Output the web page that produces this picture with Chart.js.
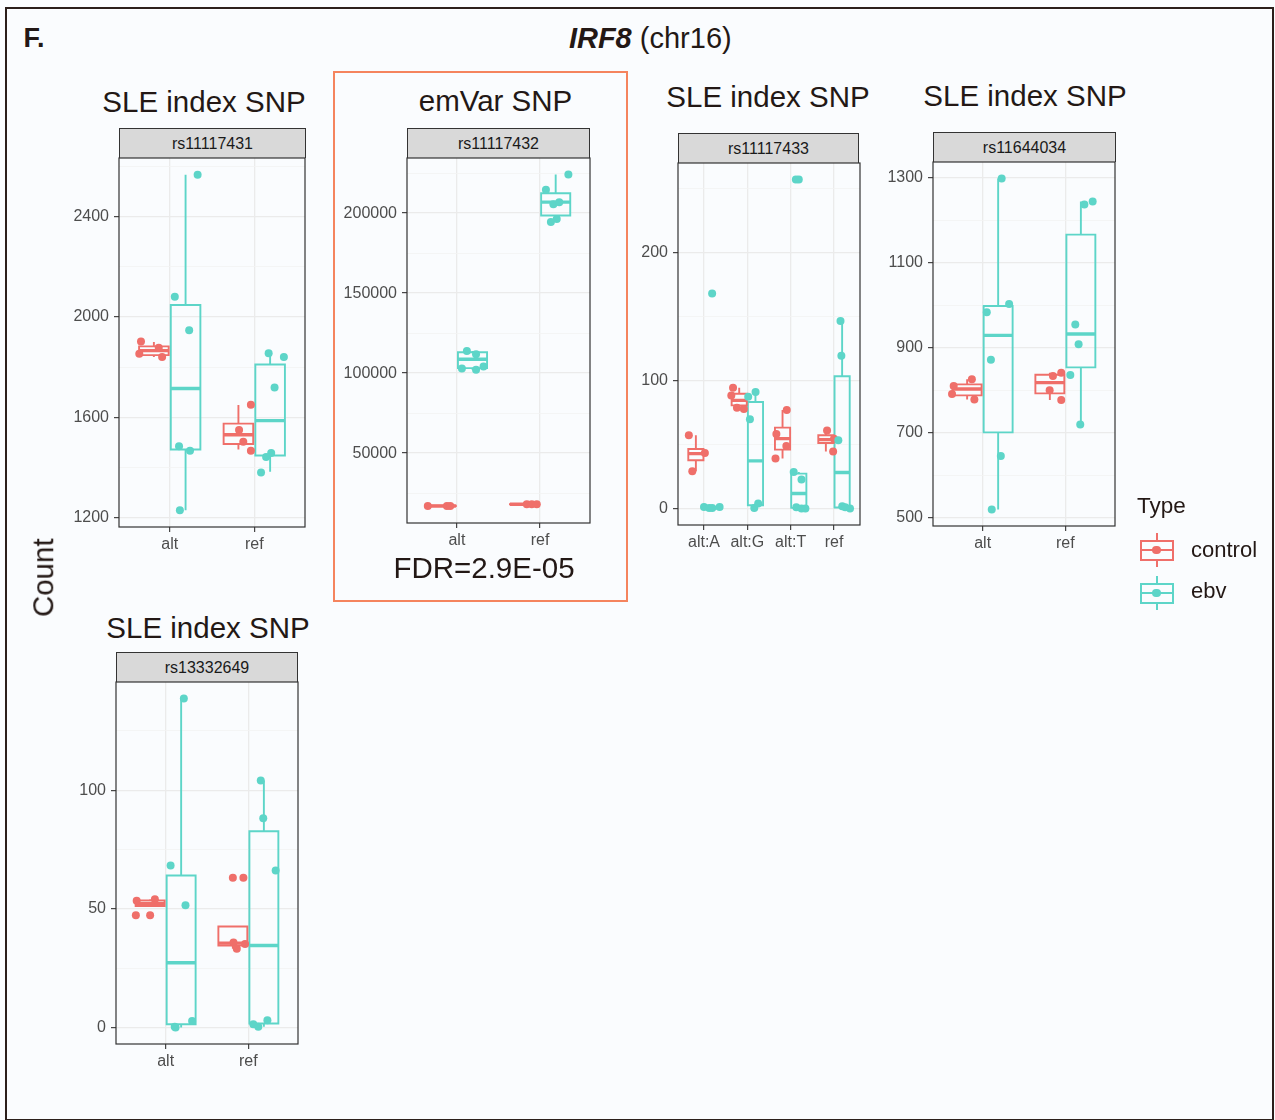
<!DOCTYPE html>
<html>
<head>
<meta charset="utf-8">
<title>IRF8 (chr16)</title>
<script src="https://cdn.jsdelivr.net/npm/chart.js@4.4.1/dist/chart.umd.min.js"></script>
<style>
  html, body { margin: 0; padding: 0; background: #FAFCFE; }
  #page { position: relative; width: 1275px; height: 1120px; overflow: hidden;
          font-family: "Liberation Sans", Arial, Helvetica, sans-serif; color: #231815; }
  .t { position: absolute; white-space: nowrap; }
  .strip { position: absolute; box-sizing: border-box; background: #D9D9D9;
           border: 1.2px solid #333; border-bottom: none; text-align: center;
           font-size: 16px; color: #1A1A1A; }
  canvas { position: absolute; }
  .k { position: absolute; box-sizing: border-box; }
</style>
</head>
<body>
<div id="page"></div>
<script>
// ---------------- data ----------------
const TYPES = ['control', 'ebv'];

// rs11117431 — box stats per allele are [lower whisker, Q1, median, Q3, upper whisker]
const rs11117431Alleles = ['alt', 'ref'];
const rs11117431Breaks = [1200, 1600, 2000, 2400];
const rs11117431Minor = [1400, 1800, 2200, 2600];
const rs11117431ControlBox = [[1841, 1848, 1866, 1883, 1900], [1472, 1494, 1531, 1575, 1649]];
const rs11117431EbvBox = [[1230, 1472, 1715, 2048, 2567], [1383, 1448, 1587, 1811, 1856]];
const rs11117431ControlPts = [[0.66, 1902], [0.64, 1854], [0.87, 1878], [0.91, 1841],
                              [1.96, 1650], [1.82, 1550], [1.87, 1503], [1.96, 1467]];
const rs11117431EbvPts = [[1.33, 2567], [1.06, 2081], [1.23, 1947], [1.11, 1485], [1.24, 1467], [1.12, 1230],
                          [2.17, 1856], [2.35, 1841], [2.24, 1719], [2.20, 1458], [2.14, 1442], [2.08, 1380]];

// rs11117432 (emVar)
const rs11117432Alleles = ['alt', 'ref'];
const rs11117432Breaks = [50000, 100000, 150000, 200000];
const rs11117432Minor = [25000, 75000, 125000, 175000, 225000];
const rs11117432ControlBox = [[16700, 16900, 17000, 17100, 17300], [17800, 17950, 18050, 18150, 18300]];
const rs11117432EbvBox = [[102075, 103110, 108714, 113070, 113900], [194400, 198550, 206850, 212450, 224070]];
const rs11117432ControlPts = [[0.65, 17010], [0.88, 17010], [0.92, 17010],
                              [1.84, 18050], [1.90, 18050], [1.96, 18050]];
const rs11117432EbvPts = [[1.12, 113900], [1.23, 111826], [1.06, 102905], [1.23, 102075], [1.32, 104150],
                          [2.34, 224070], [2.07, 214530], [2.16, 205600], [2.23, 206850], [2.20, 196270], [2.13, 194400]];
const rs11117432Fdr = 'FDR=2.9E-05';

// rs11117433
const rs11117433Alleles = ['alt:A', 'alt:G', 'alt:T', 'ref'];
const rs11117433Breaks = [0, 100, 200];
const rs11117433Minor = [50, 150, 250];
const rs11117433ControlBox = [[29.1, 37.7, 42.9, 46.5, 57.2], [77.8, 80.6, 84.5, 89.7, 94.4],
                              [39.0, 46.0, 54.6, 63.2, 77.0], [44.5, 51.2, 53.8, 57.2, 60.9]];
const rs11117433EbvBox = [[0, 0.2, 0.5, 0.8, 1.3], [0.5, 2.6, 37.2, 83.2, 91.0],
                          [0, 0.5, 11.7, 27.3, 28.6], [0, 0.8, 28.1, 103.3, 146.4]];
const rs11117433ControlPts = [[0.65, 57.2], [0.73, 29.1], [1.02, 43.4],
                              [1.67, 94.4], [1.63, 88.2], [1.76, 78.8], [1.92, 77.8],
                              [2.65, 39.0], [2.67, 58.3], [2.90, 48.9], [2.91, 77.0],
                              [3.84, 60.9], [4.00, 54.6], [3.98, 44.5]];
const rs11117433EbvPts = [[1.00, 1.3], [1.12, 0.5], [1.19, 0.5], [1.36, 1.3], [1.1875, 168],
                          [2.02, 87.4], [2.19, 91.0], [2.06, 69.7], [2.16, 0.5], [2.25, 3.9],
                          [3.07, 28.6], [3.25, 22.6], [3.13, 1.0], [3.25, 0], [3.34, 0], [3.12, 257], [3.1875, 257],
                          [4.15, 146.4], [4.17, 119.4], [4.10, 53.3], [4.19, 1.8], [4.26, 1.0], [4.37, 0]];

// rs11644034
const rs11644034Alleles = ['alt', 'ref'];
const rs11644034Breaks = [500, 700, 900, 1100, 1300];
const rs11644034Minor = [600, 800, 1000, 1200];
const rs11644034ControlBox = [[779, 788.5, 803.4, 814.4, 826.2], [777.5, 793.2, 818.4, 837.2, 841.9]];
const rs11644034EbvBox = [[520, 701.4, 929.8, 998.9, 1298.8], [720.2, 854.5, 933, 1166.9, 1244.6]];
const rs11644034ControlPts = [[0.65, 810.5], [0.63, 791.7], [0.87, 826.2], [0.90, 779],
                              [1.85, 834], [1.95, 841.9], [1.81, 800.3], [1.95, 777.5]];
const rs11644034EbvPts = [[1.23, 1298.8], [1.32, 1003.6], [1.05, 984], [1.10, 872.5], [1.22, 645.6], [1.11, 520],
                          [2.23, 1237.6], [2.33, 1244.6], [2.12, 955], [2.16, 908.6], [2.06, 836.4], [2.18, 720.2]];

// rs13332649
const rs13332649Alleles = ['alt', 'ref'];
const rs13332649Breaks = [0, 50, 100];
const rs13332649Minor = [25, 75, 125];
const rs13332649ControlBox = [[51.2, 51.2, 52.3, 53.6, 54.1], [33.2, 34.6, 35.6, 42.6, 43.0]];
const rs13332649EbvBox = [[0, 1.4, 27.3, 64.1, 138.7], [0.3, 1.7, 34.6, 82.7, 104.1]];
const rs13332649ControlPts = [[0.65, 53.4], [0.87, 54.1], [0.64, 47.3], [0.8125, 47.3],
                              [1.8125, 63.1], [1.94, 63.1], [1.82, 35.8], [1.86, 33.2], [1.96, 35.2]];
const rs13332649EbvPts = [[1.22, 138.7], [1.06, 68.3], [1.24, 51.5], [1.11, 0.3], [1.12, 0], [1.32, 2.8],
                          [2.15, 104.1], [2.18, 88.2], [2.33, 66.2], [2.06, 1.4], [2.12, 0.3], [2.23, 3.1]];

// ---------------- styling ----------------
const FONT = '"Liberation Sans", Arial, Helvetica, sans-serif';
const COLOR = { control: '#EF6F6A', ebv: '#5DD5C8' };
const AXIS = '#333333';
const TICK_TEXT = '#4D4D4D';
const GRID = '#EBEBEB';
const GRID_MINOR = '#F2F2F2';
const DODGE = 0.1875;   // half of the dodge width
const HALF = 0.175;     // half box width
const Y_AXIS_W = 80, X_AXIS_H = 34, PAD_T = 2, PAD_R = 3;

const panels = [
  { snp: 'rs11117431', heading: 'SLE index SNP', alleles: rs11117431Alleles, breaks: rs11117431Breaks, minor: rs11117431Minor,
    box: { control: rs11117431ControlBox, ebv: rs11117431EbvBox }, pts: { control: rs11117431ControlPts, ebv: rs11117431EbvPts },
    geo: { left: 119.3, top: 157.7, right: 305.7, bottom: 526.7, hx: 204, hy: 101 } },
  { snp: 'rs11117432', heading: 'emVar SNP', alleles: rs11117432Alleles, breaks: rs11117432Breaks, minor: rs11117432Minor,
    box: { control: rs11117432ControlBox, ebv: rs11117432EbvBox }, pts: { control: rs11117432ControlPts, ebv: rs11117432EbvPts },
    geo: { left: 407, top: 157.7, right: 590, bottom: 522.7, hx: 495.5, hy: 100 } },
  { snp: 'rs11117433', heading: 'SLE index SNP', alleles: rs11117433Alleles, breaks: rs11117433Breaks, minor: rs11117433Minor,
    box: { control: rs11117433ControlBox, ebv: rs11117433EbvBox }, pts: { control: rs11117433ControlPts, ebv: rs11117433EbvPts },
    geo: { left: 677.7, top: 162.7, right: 859.3, bottom: 524.3, hx: 768, hy: 96 } },
  { snp: 'rs11644034', heading: 'SLE index SNP', alleles: rs11644034Alleles, breaks: rs11644034Breaks, minor: rs11644034Minor,
    box: { control: rs11644034ControlBox, ebv: rs11644034EbvBox }, pts: { control: rs11644034ControlPts, ebv: rs11644034EbvPts },
    geo: { left: 933.3, top: 161.7, right: 1115.7, bottom: 525.7, hx: 1025, hy: 95 } },
  { snp: 'rs13332649', heading: 'SLE index SNP', alleles: rs13332649Alleles, breaks: rs13332649Breaks, minor: rs13332649Minor,
    box: { control: rs13332649ControlBox, ebv: rs13332649EbvBox }, pts: { control: rs13332649ControlPts, ebv: rs13332649EbvPts },
    geo: { left: 116, top: 681.7, right: 298, bottom: 1043.3, hx: 208, hy: 627 } }
];

const page = document.getElementById('page');

function text(html, o) {
  const d = document.createElement('div');
  d.className = 't';
  d.innerHTML = html;
  const fs = o.size;
  d.style.fontSize = fs + 'px';
  d.style.lineHeight = fs + 'px';
  if (o.weight) d.style.fontWeight = o.weight;
  if (o.color) d.style.color = o.color;
  if (o.cx !== undefined) {
    d.style.left = (o.cx - 300) + 'px';
    d.style.width = '600px';
    d.style.textAlign = 'center';
  } else {
    d.style.left = o.left + 'px';
  }
  // vertical placement by cap centre or by baseline
  if (o.cy !== undefined) d.style.top = (o.cy - 0.49 * fs) + 'px';
  else d.style.top = (o.base - 0.8465 * fs) + 'px';
  page.appendChild(d);
  return d;
}

// box outline (rectangle + whiskers) as one gapped polyline in data units
function boxOutline(stats, side) {
  const out = [];
  stats.forEach((s, i) => {
    const [lo, q1, , q3, hi] = s;
    const cx = i + 1 + side * DODGE, l = cx - HALF, r = cx + HALF;
    out.push({ x: cx, y: q3 }, { x: cx, y: hi }, { x: cx, y: null },
             { x: cx, y: q1 }, { x: cx, y: lo }, { x: cx, y: null },
             { x: l, y: q1 }, { x: r, y: q1 }, { x: r, y: q3 }, { x: l, y: q3 }, { x: l, y: q1 }, { x: r, y: q1 },
             { x: r, y: null });
  });
  return out;
}
function medians(stats, side) {
  const out = [];
  stats.forEach((s, i) => {
    const cx = i + 1 + side * DODGE;
    out.push({ x: cx - HALF, y: s[2] }, { x: cx + HALF, y: s[2] }, { x: cx, y: null });
  });
  return out;
}

const frame = {
  id: 'panelFrame',
  afterDraw(chart) {
    const { ctx, chartArea: a } = chart;
    ctx.save();
    ctx.strokeStyle = AXIS;
    ctx.lineWidth = 1.2;
    ctx.strokeRect(a.left, a.top, a.right - a.left, a.bottom - a.top);
    ctx.restore();
  }
};

// keep the plot area exactly where the layout puts it
function noEdgePadding(s) {
  s.paddingTop = 0; s.paddingBottom = 0; s.paddingLeft = 0; s.paddingRight = 0;
}

panels.forEach(p => {
  const g = p.geo;
  const plotW = g.right - g.left, plotH = g.bottom - g.top;

  // strip with the SNP id
  const st = document.createElement('div');
  st.className = 'strip';
  st.style.left = g.left + 'px';
  st.style.top = (g.top - 30) + 'px';
  st.style.width = plotW + 'px';
  st.style.height = '30px';
  st.style.lineHeight = '30px';
  st.textContent = p.snp;
  page.appendChild(st);

  text(p.heading, { size: 29.5, cx: g.hx, cy: g.hy });

  const cv = document.createElement('canvas');
  const W = Math.round(Y_AXIS_W + plotW + PAD_R), H = Math.round(PAD_T + plotH + X_AXIS_H);
  cv.width = W; cv.height = H;
  cv.style.width = W + 'px'; cv.style.height = H + 'px';
  cv.style.left = (g.left - Y_AXIS_W) + 'px';
  cv.style.top = (g.top - PAD_T) + 'px';
  page.appendChild(cv);

  const ys = [];
  TYPES.forEach(t => { p.pts[t].forEach(v => ys.push(v[1])); p.box[t].forEach(s => ys.push(s[0], s[4])); });
  const lo = Math.min(...ys), hi = Math.max(...ys), pad = (hi - lo) * 0.05;

  const datasets = [];
  TYPES.forEach((t, k) => {
    const side = k === 0 ? -1 : 1;
    datasets.push({
      label: t + ' box', data: boxOutline(p.box[t], side), showLine: true, spanGaps: false,
      borderColor: COLOR[t], borderWidth: 1.9, pointRadius: 0, borderJoinStyle: 'miter',
      borderCapStyle: 'butt', tension: 0, fill: false, order: 3
    });
    datasets.push({
      label: t + ' median', data: medians(p.box[t], side), showLine: true, spanGaps: false,
      borderColor: COLOR[t], borderWidth: 3.4, pointRadius: 0, borderCapStyle: 'butt', tension: 0, fill: false, order: 2
    });
  });
  TYPES.forEach((t, k) => {
    datasets.push({
      label: t, data: p.pts[t].map(v => ({ x: v[0], y: v[1] })),
      pointRadius: 4, pointBackgroundColor: COLOR[t], pointBorderWidth: 0, borderWidth: 0,
      showLine: false, order: k === 0 ? 1 : 0
    });
  });

  new Chart(cv, {
    type: 'scatter',
    data: { datasets },
    options: {
      responsive: false, animation: false, devicePixelRatio: 1, events: [],
      layout: { autoPadding: false, padding: { left: 0, top: PAD_T, right: PAD_R, bottom: 0 } },
      plugins: { legend: { display: false }, tooltip: { enabled: false }, title: { display: false } },
      scales: {
        x: {
          type: 'linear', bounds: 'data', min: 0.4, max: p.alleles.length + 0.6,
          afterBuildTicks: s => { s.ticks = p.alleles.map((_, i) => ({ value: i + 1 })); },
          afterFit: s => { s.height = X_AXIS_H; noEdgePadding(s); },
          ticks: { callback: v => p.alleles[Math.round(v) - 1] || '', color: TICK_TEXT,
                   font: { family: FONT, size: 16 }, padding: 3, maxRotation: 0, autoSkip: false },
          grid: { color: GRID, lineWidth: 1.3, tickColor: AXIS, tickWidth: 1.1, tickLength: 5 },
          border: { display: false }
        },
        y: {
          type: 'linear', bounds: 'data', min: lo - pad, max: hi + pad,
          afterBuildTicks: s => {
            s.ticks = p.breaks.concat(p.minor).sort((a, b) => a - b).map(v => ({ value: v }));
          },
          afterFit: s => { s.width = Y_AXIS_W; noEdgePadding(s); },
          ticks: { callback: v => p.breaks.includes(v) ? String(v) : '', color: TICK_TEXT,
                   font: { family: FONT, size: 16 }, padding: 5, autoSkip: false },
          grid: {
            color: c => p.breaks.includes(c.tick.value) ? GRID : GRID_MINOR,
            lineWidth: c => p.breaks.includes(c.tick.value) ? 1.3 : 0.8,
            tickColor: c => p.breaks.includes(c.tick.value) ? AXIS : 'rgba(0,0,0,0)',
            tickWidth: 1.1, tickLength: 5
          },
          border: { display: false }
        }
      }
    },
    plugins: [frame]
  });
});

// figure labels
text('F.', { size: 27, weight: 'bold', left: 23.5, cy: 38.3 });
text('<span style="font-weight:bold;font-style:italic">IRF8</span> (chr16)', { size: 29, cx: 650.3, cy: 38 });
text(rs11117432Fdr, { size: 29.5, cx: 484, cy: 567 });

const count = text('Count', { size: 29.5, cx: 42.5, cy: 577.5 });
count.style.top = (577.5 - 29.5 / 2) + 'px';
count.style.transform = 'rotate(-90deg)';
count.style.transformOrigin = '50% 50%';

// highlight around the emVar panel
const hl = document.createElement('div');
hl.className = 'k';
Object.assign(hl.style, { left: '333px', top: '71px', width: '295px', height: '531px', border: '2px solid #F5845E' });
page.appendChild(hl);

// outer frame
const fr = document.createElement('div');
fr.className = 'k';
Object.assign(fr.style, { left: '5px', top: '7px', width: '1269px', height: '1114px', border: '2px solid #2B1F1B' });
page.appendChild(fr);

// legend
text('Type', { size: 22.5, left: 1137, base: 514.3 });
function key(type, cy) {
  const c = COLOR[type];
  const add = st => { const d = document.createElement('div'); d.className = 'k'; Object.assign(d.style, st); page.appendChild(d); };
  add({ left: '1140px', top: (cy - 10.5) + 'px', width: '33.5px', height: '21px', border: '2px solid ' + c });
  add({ left: '1155.7px', top: (cy - 17) + 'px', width: '2px', height: '6.5px', background: c });
  add({ left: '1155.7px', top: (cy + 10.5) + 'px', width: '2px', height: '6.5px', background: c });
  add({ left: '1140px', top: (cy - 1) + 'px', width: '33.5px', height: '2px', background: c });
  add({ left: '1152.4px', top: (cy - 4.3) + 'px', width: '8.6px', height: '8.6px', borderRadius: '50%', background: c });
}
key('control', 550);
key('ebv', 593);
text('control', { size: 22, left: 1191, base: 557.3 });
text('ebv', { size: 22, left: 1191, base: 599 });
</script>
</body>
</html>
